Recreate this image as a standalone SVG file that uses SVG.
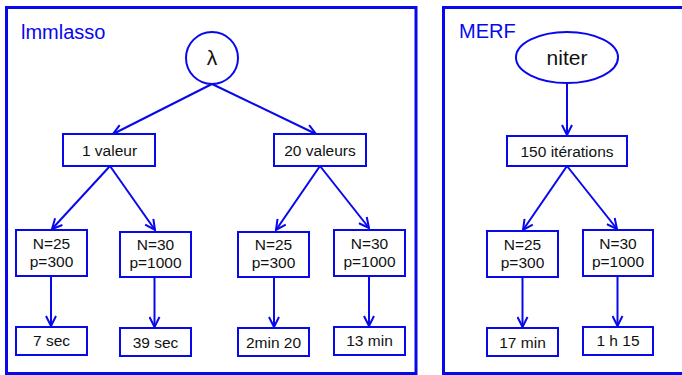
<svg xmlns="http://www.w3.org/2000/svg" width="682" height="375" viewBox="0 0 682 375">
<style>
.frame{fill:none;stroke:#0808ec;stroke-width:3}
.box{fill:#fff;stroke:#0808ec;stroke-width:2}
.t{font-family:"Liberation Sans",Arial,sans-serif;font-size:15.5px;fill:#111;text-anchor:middle}
.big{font-family:"Liberation Sans",Arial,sans-serif;font-size:21px;fill:#111;text-anchor:middle}
.title{font-family:"Liberation Sans",Arial,sans-serif;font-size:20px;fill:#0808ec}
.c{fill:none;stroke:#0808ec;stroke-width:2;marker-end:url(#ah)}
</style>
<defs>
<marker id="ah" viewBox="0 0 12 12" refX="11" refY="6" markerWidth="12" markerHeight="12" markerUnits="userSpaceOnUse" orient="auto">
<path d="M1,1 L11,6 L1,11" fill="none" stroke="#0808ec" stroke-width="2"/>
</marker>
</defs>
<rect width="682" height="375" fill="#fff"/>
<g id="frame-lmmlasso">
<rect class="frame" x="6.5" y="7.5" width="409.5" height="366"/>
<text class="title" x="21" y="39">lmmlasso</text>
</g>
<g id="frame-merf">
<rect class="frame" x="443.5" y="7.5" width="250" height="366"/>
<text class="title" x="459" y="38">MERF</text>
</g>
<g id="connectors">
<line class="c" x1="212" y1="84" x2="113" y2="134"/>
<line class="c" x1="212" y1="84" x2="316" y2="134"/>
<line class="c" x1="110" y1="166" x2="52" y2="229"/>
<line class="c" x1="110" y1="166" x2="155" y2="230"/>
<line class="c" x1="320" y1="166" x2="276" y2="230"/>
<line class="c" x1="320" y1="166" x2="369" y2="228"/>
<line class="c" x1="51" y1="276" x2="51" y2="326"/>
<line class="c" x1="154.5" y1="277" x2="154.5" y2="327"/>
<line class="c" x1="274" y1="277" x2="274" y2="327"/>
<line class="c" x1="369" y1="276" x2="369" y2="326"/>
<line class="c" x1="567" y1="83" x2="567" y2="135"/>
<line class="c" x1="567" y1="166" x2="523" y2="230"/>
<line class="c" x1="567" y1="166" x2="617" y2="229"/>
<line class="c" x1="522.5" y1="277" x2="522.5" y2="327"/>
<line class="c" x1="617.5" y1="276" x2="617.5" y2="326"/>
</g>
<g id="lambda">
<circle cx="212" cy="58" r="26" fill="#fff" stroke="#0808ec" stroke-width="2"/>
<text class="big" x="212" y="65">λ</text>
</g>
<g id="un-valeur">
<rect class="box" x="63" y="134" width="92" height="32"/>
<text class="t" x="109.5" y="155.5">1 valeur</text>
</g>
<g id="vingt-valeurs">
<rect class="box" x="274" y="134" width="92" height="32"/>
<text class="t" x="320" y="155.5">20 valeurs</text>
</g>
<g id="l1-n25">
<rect class="box" x="16" y="230" width="71" height="46"/>
<text class="t" x="51.5" y="249">N=25</text>
<text class="t" x="51.5" y="267">p=300</text>
</g>
<g id="l1-n30">
<rect class="box" x="120" y="232" width="71" height="45"/>
<text class="t" x="155.5" y="250">N=30</text>
<text class="t" x="155.5" y="268">p=1000</text>
</g>
<g id="l20-n25">
<rect class="box" x="238" y="232" width="71" height="45"/>
<text class="t" x="273.5" y="250">N=25</text>
<text class="t" x="273.5" y="268">p=300</text>
</g>
<g id="l20-n30">
<rect class="box" x="334" y="230" width="71" height="46"/>
<text class="t" x="369.5" y="249">N=30</text>
<text class="t" x="369.5" y="267">p=1000</text>
</g>
<g id="t7sec">
<rect class="box" x="16" y="327" width="71" height="28"/>
<text class="t" x="51.5" y="346">7 sec</text>
</g>
<g id="t39sec">
<rect class="box" x="120" y="328" width="71" height="28"/>
<text class="t" x="155.5" y="347.5">39 sec</text>
</g>
<g id="t2min20">
<rect class="box" x="238" y="328" width="71" height="28"/>
<text class="t" x="273.5" y="347.5">2min 20</text>
</g>
<g id="t13min">
<rect class="box" x="334" y="327" width="71" height="28"/>
<text class="t" x="369.5" y="346">13 min</text>
</g>
<g id="niter">
<ellipse cx="567" cy="57.5" rx="51" ry="25.5" fill="#fff" stroke="#0808ec" stroke-width="2"/>
<text class="big" x="567" y="65">niter</text>
</g>
<g id="iterations">
<rect class="box" x="507" y="136" width="120" height="30"/>
<text class="t" x="567" y="156.5">150 itérations</text>
</g>
<g id="m-n25">
<rect class="box" x="487" y="231" width="71" height="46"/>
<text class="t" x="522.5" y="250">N=25</text>
<text class="t" x="522.5" y="268">p=300</text>
</g>
<g id="m-n30">
<rect class="box" x="583" y="230" width="70" height="46"/>
<text class="t" x="618" y="249">N=30</text>
<text class="t" x="618" y="267">p=1000</text>
</g>
<g id="t17min">
<rect class="box" x="487" y="328" width="71" height="28"/>
<text class="t" x="522.5" y="347.5">17 min</text>
</g>
<g id="t1h15">
<rect class="box" x="583" y="327" width="70" height="28"/>
<text class="t" x="618" y="346">1 h 15</text>
</g>
</svg>
